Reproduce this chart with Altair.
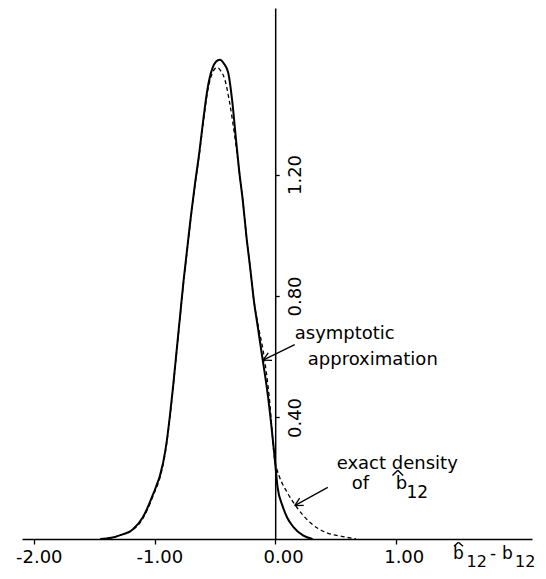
import math
import altair as alt
import pandas as pd

# ---- data ----
asym_x = [-1.45, -1.36, -1.29, -1.18, -1.10, -1.02, -0.93, -0.90, -0.875, -0.85, -0.82, -0.79,
          -0.76, -0.73, -0.70, -0.665, -0.63, -0.595, -0.56, -0.52, -0.49, -0.46, -0.42, -0.39,
          -0.355, -0.328, -0.30, -0.267, -0.239, -0.206, -0.178, -0.145, -0.115, -0.06, -0.01,
          0.00, 0.02, 0.06, 0.10, 0.15, 0.23, 0.31]
asym_y = [0.000, 0.004, 0.012, 0.032, 0.070, 0.140, 0.250, 0.320, 0.400, 0.490, 0.610, 0.730,
          0.850, 0.955, 1.060, 1.170, 1.270, 1.385, 1.485, 1.550, 1.572, 1.578, 1.562, 1.536,
          1.437, 1.327, 1.217, 1.108, 0.998, 0.888, 0.789, 0.700, 0.620, 0.470, 0.290,
          0.250, 0.170, 0.110, 0.070, 0.040, 0.012, 0.000]

exact_x = [-1.45, -1.36, -1.29, -1.18, -1.10, -1.02, -0.93, -0.90, -0.875, -0.85, -0.82, -0.79,
           -0.76, -0.73, -0.70, -0.665, -0.63, -0.595, -0.56, -0.52, -0.50, -0.48, -0.45, -0.419,
           -0.378, -0.336, -0.30, -0.267, -0.239, -0.206, -0.178, -0.14, -0.10, -0.05,
           0.00, 0.01, 0.05, 0.09, 0.18, 0.29, 0.43, 0.56, 0.67]
exact_y = [0.000, 0.004, 0.012, 0.030, 0.066, 0.135, 0.245, 0.315, 0.395, 0.485, 0.605, 0.725,
           0.845, 0.950, 1.055, 1.165, 1.265, 1.375, 1.475, 1.535, 1.548, 1.552, 1.540, 1.514,
           1.437, 1.327, 1.217, 1.108, 0.998, 0.888, 0.789, 0.700, 0.620, 0.470,
           0.250, 0.235, 0.190, 0.160, 0.104, 0.054, 0.020, 0.008, 0.000]

x_ticks = [-2, -1, 0, 1]
y_ticks = [0.4, 0.8, 1.2]

# annotation texts (data coordinates)
ann_text = ["asymptotic", "approximation", "exact density", "of", "b", "12",
            "b", "12", "-", "b", "12"]
ann_x = [0.162, 0.270, 0.510, 0.635, 1.000, 1.089,
         1.475, 1.587, 1.782, 1.881, 1.989]
ann_y = [0.657, 0.574, 0.2298, 0.164, 0.164, 0.1366,
         -0.0658, -0.0922, -0.0658, -0.0658, -0.0922]
ann_size = [18, 18, 18, 18, 18, 17, 17, 16, 17, 17, 16]

# hats over b: (center x, top y, bottom y, half width in px)
hat_cx = [1.017, 1.520]
hat_top = [0.2265, -0.0105]
hat_bot = [0.2090, -0.0240]
hat_hw = [5.3, 4.5]

# arrows: tail and head in data units
arrow_tail_x = [0.162, 0.436]
arrow_tail_y = [0.640, 0.170]
arrow_head_x = [-0.101, 0.162]
arrow_head_y = [0.589, 0.110]

# ---- layout ----
X_DOMAIN = [-2.10, 2.13]
W, H = 510, 531
PX_X = W / (X_DOMAIN[1] - X_DOMAIN[0])
PX_Y = 303.75
Y_DOMAIN = [0.0, H / PX_Y]
zero_px = (0 - X_DOMAIN[0]) * PX_X

xs = alt.Scale(domain=X_DOMAIN, nice=False, zero=False)
ys = alt.Scale(domain=Y_DOMAIN, nice=False, zero=False)
FONT = "DejaVu Sans"

solid_df = pd.DataFrame({"x": asym_x, "y": asym_y, "i": list(range(len(asym_x)))})
dash_df = pd.DataFrame({"x": exact_x, "y": exact_y, "i": list(range(len(exact_x)))})

x_axis = alt.Axis(
    values=x_ticks, title=None, grid=False,
    labelExpr="datum.value < 0 ? '-' + format(-datum.value, '.2f') : format(datum.value, '.2f')",
    domainColor="black", domainWidth=1.5, tickColor="black", tickSize=5, tickWidth=1.3,
    labelFont=FONT, labelFontSize=18, labelColor="black", labelPadding=4,
    labelFlush=False, labelOverlap=False, labelAlign="right", labelOffset=28,
)
y_axis = alt.Axis(
    orient="right", offset=zero_px - W, values=y_ticks, title=None, grid=False,
    labelExpr="format(datum.value, '.2f')",
    labelAngle=270, labelAlign="center", labelBaseline="top",
    domainColor="black", domainWidth=1.5, tickColor="black", tickSize=4, tickWidth=1.3,
    labelFont=FONT, labelFontSize=18, labelColor="black", labelPadding=7,
    labelFlush=False, labelOverlap=False,
)

X = alt.X("x:Q", scale=xs, axis=x_axis)
Y = alt.Y("y:Q", scale=ys, axis=y_axis)

solid = alt.Chart(solid_df).mark_line(
    color="black", strokeWidth=2, interpolate="monotone"
).encode(x=X, y=Y, order="i:Q")
dashed = alt.Chart(dash_df).mark_line(
    color="black", strokeWidth=1.3, strokeDash=[4, 3], interpolate="monotone"
).encode(x=X, y=Y, order="i:Q")

# line segments: arrow shafts, arrow heads, circumflex hats
seg = {"x": [], "y": [], "x2": [], "y2": [], "w": []}
def add(x1, y1, x2, y2, w):
    seg["x"].append(x1); seg["y"].append(y1)
    seg["x2"].append(x2); seg["y2"].append(y2); seg["w"].append(w)

for tx, ty, hx, hy in zip(arrow_tail_x, arrow_tail_y, arrow_head_x, arrow_head_y):
    add(tx, ty, hx, hy, 1.3)
    dpx = (tx - hx) * PX_X
    dpy = -(ty - hy) * PX_Y
    L = math.hypot(dpx, dpy)
    ux, uy = dpx / L, dpy / L
    for a in (math.radians(28), math.radians(-28)):
        wx = ux * math.cos(a) - uy * math.sin(a)
        wy = ux * math.sin(a) + uy * math.cos(a)
        add(hx, hy, hx + 9 * wx / PX_X, hy - 9 * wy / PX_Y, 1.3)

for cx, top, bot, hw in zip(hat_cx, hat_top, hat_bot, hat_hw):
    add(cx - hw / PX_X, bot, cx, top, 1.4)
    add(cx, top, cx + hw / PX_X, bot, 1.4)
seg_df = pd.DataFrame(seg)

lines = alt.Chart(seg_df).mark_rule(color="black").encode(
    x=X, y=Y, x2="x2:Q", y2="y2:Q",
    strokeWidth=alt.StrokeWidth("w:Q", scale=None, legend=None),
)

ann_df = pd.DataFrame({"t": ann_text, "x": ann_x, "y": ann_y, "s": ann_size})
texts = alt.Chart(ann_df).mark_text(
    align="left", baseline="alphabetic", font=FONT, color="black"
).encode(
    x=X, y=Y,
    text="t:N",
    size=alt.Size("s:Q", scale=None, legend=None),
)

chart = alt.layer(solid, dashed, lines, texts).properties(
    width=W, height=H,
    autosize=alt.AutoSizeParams(type="none"),
    padding={"left": 14, "top": 0, "right": 6, "bottom": 32},
    background="white",
).configure_view(stroke=None)

chart.save("out.html", embed_options={"renderer": "svg", "actions": False})
